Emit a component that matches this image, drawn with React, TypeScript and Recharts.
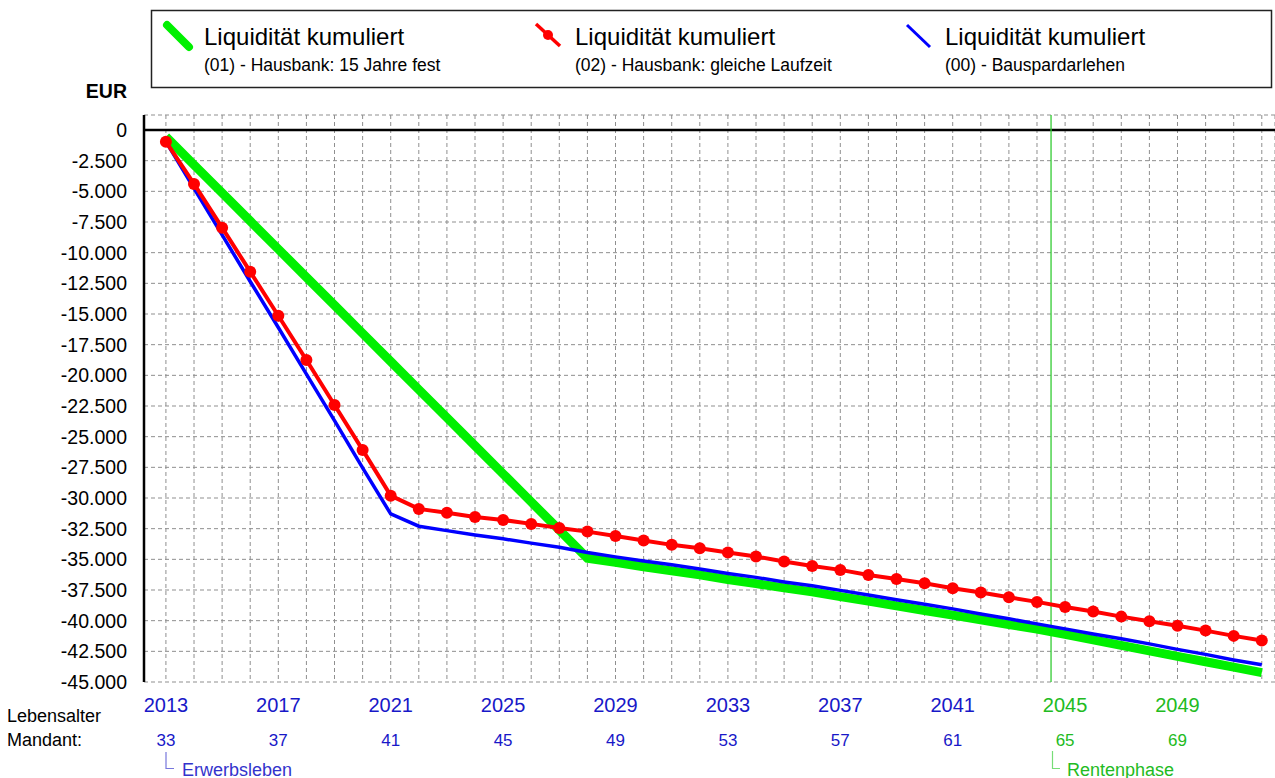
import { LineChart, Line, XAxis, YAxis, CartesianGrid, ReferenceLine } from 'recharts';

const FONT = '"Liberation Sans", Arial, Helvetica, sans-serif';

const years = Array.from({ length: 40 }, (_, i) => 2013 + i);
const labelYears = [2013, 2017, 2021, 2025, 2029, 2033, 2037, 2041, 2045, 2049];
const ageLabels = [33, 37, 41, 45, 49, 53, 57, 61, 65, 69];
const yTicks = [0, -2500, -5000, -7500, -10000, -12500, -15000, -17500, -20000, -22500, -25000, -27500, -30000, -32500, -35000, -37500, -40000, -42500, -45000];
const retirementYear = 2045;
const retirementLine = 2044.5;

// (01) - Hausbank: 15 Jahre fest
const hausbankFest = [
  -550, -2840, -5130, -7420, -9710, -12000, -14290, -16580, -18870, -21160, -23450, -25740, -28030, -30320, -32610,
  -34910, -35250, -35600, -35940, -36270, -36640, -36980, -37330, -37650, -38040, -38410, -38790, -39170, -39550,
  -39930, -40320, -40690, -41120, -41560, -42010, -42460, -42910, -43350, -43790, -44230,
];
// (02) - Hausbank: gleiche Laufzeit
const hausbankGleich = [
  -950, -4400, -7960, -11550, -15140, -18750, -22420, -26080, -29810,
  -30890, -31210, -31540, -31790, -32110, -32440,
  -32740, -33090, -33470, -33820, -34090, -34450, -34770, -35180,
  -35540, -35860, -36270, -36600, -36950, -37350, -37710, -38090, -38470,
  -38880, -39260, -39670, -40040, -40420, -40810, -41240, -41620,
];
// (00) - Bauspardarlehen
const bauspar = [
  -950, -4750, -8550, -12350, -16100, -19900, -23700, -27550, -31300,
  -32300, -32660, -33010, -33330, -33680, -34010, -34450,
  -34800, -35130, -35450, -35780, -36150, -36470, -36840, -37160, -37530, -37900, -38300, -38670,
  -39040, -39450, -39850, -40260, -40670, -41080, -41480, -41890, -42340, -42750, -43200, -43600,
];

const data = years.map((year, i) => ({
  year,
  fest: hausbankFest[i],
  gleich: hausbankGleich[i],
  bauspar: bauspar[i],
}));

const BLUE = '#1818c8';
const GREEN = '#22bb22';
const LIME = '#00f000';

function fmt(v: number) {
  const s = Math.abs(v).toString().replace(/\B(?=(\d{3})+(?!\d))/g, '.');
  return v < 0 ? '-' + s : s;
}

function YearTick(props: any) {
  const { x, y, payload } = props;
  const idx = labelYears.indexOf(payload.value);
  if (idx < 0) return <g />;
  const color = payload.value >= retirementYear ? GREEN : BLUE;
  return (
    <g>
      <text x={x} y={y} dy={21.5} textAnchor="middle" fill={color} fontSize={20} fontFamily={FONT}>
        {payload.value}
      </text>
      <text x={x} y={y} dy={55.5} textAnchor="middle" fill={color} fontSize={17} fontFamily={FONT}>
        {ageLabels[idx]}
      </text>
    </g>
  );
}

function LegendBox() {
  return (
    <g fontFamily={FONT}>
      <rect x={151.5} y={10.5} width={1120} height={77} fill="#fff" stroke="#222" strokeWidth={1.5} />
      <line x1={167} y1={25} x2={189} y2={47} stroke={LIME} strokeWidth={8} strokeLinecap="round" />
      <text x={204} y={45} fontSize={24} fill="#000">Liquidität kumuliert</text>
      <text x={204} y={71} fontSize={17.5} fill="#000">(01) - Hausbank: 15 Jahre fest</text>

      <line x1={536} y1={24} x2={560} y2={46} stroke="#ff0000" strokeWidth={3.5} />
      <circle cx={548} cy={35} r={5} fill="#ff0000" />
      <text x={575} y={45} fontSize={24} fill="#000">Liquidität kumuliert</text>
      <text x={575} y={71} fontSize={17.5} fill="#000">(02) - Hausbank: gleiche Laufzeit</text>

      <line x1={907} y1={25} x2={930} y2={47} stroke="#0000ff" strokeWidth={3} />
      <text x={945} y={45} fontSize={24} fill="#000">Liquidität kumuliert</text>
      <text x={945} y={71} fontSize={17.5} fill="#000">(00) - Bauspardarlehen</text>
    </g>
  );
}

export default function App() {
  return (
    <div style={{ position: 'absolute', left: 0, top: 0, width: 1275, height: 778, background: '#fff' }}>
      <LineChart
        width={1275}
        height={778}
        data={data}
        margin={{ top: 115, right: 0, bottom: 6, left: 0 }}
      >
        <CartesianGrid stroke="#8f8f8f" strokeDasharray="4 3" />
        <XAxis
          dataKey="year"
          type="number"
          domain={[2012.22, 2052.47]}
          ticks={years}
          allowDataOverflow
          axisLine={false}
          tickLine={false}
          height={90}
          interval={0}
          tick={(p: any) => <YearTick {...p} />}
        />
        <YAxis
          type="number"
          domain={[-45000, 1223]}
          ticks={yTicks}
          allowDataOverflow
          width={144}
          interval={0}
          tickLine={false}
          tickSize={0}
          tickMargin={17}
          axisLine={{ stroke: '#000', strokeWidth: 2.5 }}
          tick={{ fill: '#000', fontSize: 19.5, fontFamily: FONT }}
          tickFormatter={fmt}
        />
        <ReferenceLine y={0} stroke="#000" strokeWidth={2.5} />
        <ReferenceLine x={retirementLine} stroke="#33cc33" strokeWidth={1.3} />
        <Line type="linear" dataKey="fest" stroke={LIME} strokeWidth={9} dot={false} isAnimationActive={false} />
        <Line type="linear" dataKey="bauspar" stroke="#0000ff" strokeWidth={3.5} dot={false} isAnimationActive={false} />
        <Line
          type="linear"
          dataKey="gleich"
          stroke="#ff0000"
          strokeWidth={4}
          dot={{ r: 6, fill: '#ff0000', stroke: '#ff0000', strokeWidth: 0 }}
          isAnimationActive={false}
        />
      </LineChart>
      <svg width={1275} height={778} style={{ position: 'absolute', left: 0, top: 0, pointerEvents: 'none' }}>
        <LegendBox />
        <g fontFamily={FONT}>
          <text x={127} y={97.5} textAnchor="end" fontSize={19.5} fontWeight="bold" fill="#000">EUR</text>
          <text x={7} y={722} fontSize={18} fill="#000">Lebensalter</text>
          <text x={7} y={746} fontSize={18} fill="#000">Mandant:</text>
          <polyline points="166,752 166,768.5 174,768.5" fill="none" stroke="#7777dd" strokeWidth={1.2} />
          <text x={182} y={775.5} fontSize={18} fill="#3333cc">Erwerbsleben</text>
          <polyline points="1052.5,751 1052.5,768.5 1060,768.5" fill="none" stroke="#77dd77" strokeWidth={1.2} />
          <text x={1067} y={775.5} fontSize={18} fill={GREEN}>Rentenphase</text>
        </g>
      </svg>
    </div>
  );
}
